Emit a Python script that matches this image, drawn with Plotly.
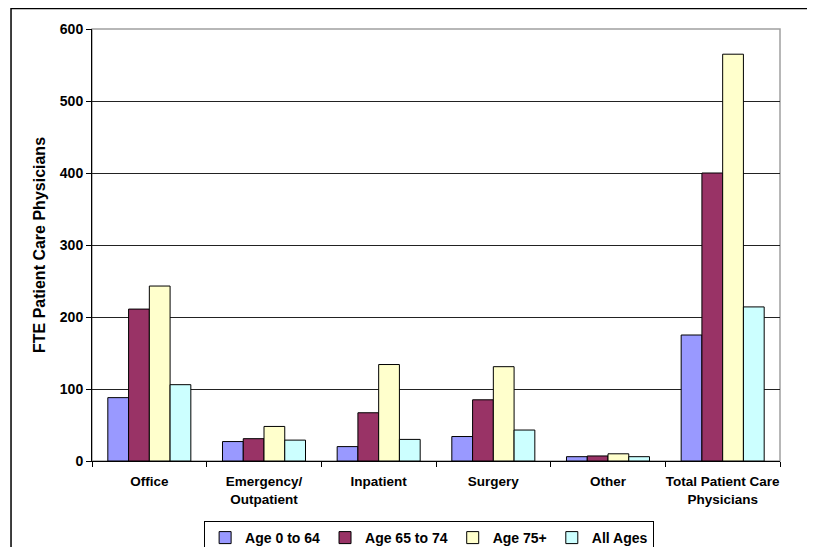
import plotly.graph_objects as go

categories = ["Office", "Emergency/<br>Outpatient", "Inpatient", "Surgery", "Other",
              "Total Patient Care<br>Physicians"]
age_0_64 = [88, 27, 20, 34, 6, 175]
age_65_74 = [211, 31, 67, 85, 7, 400]
age_75_plus = [243, 48, 134, 131, 10, 565]
all_ages = [106, 29, 30, 43, 6, 214]

series = [
    ("Age 0 to 64", age_0_64, "#9999FF"),
    ("Age 65 to 74", age_65_74, "#993366"),
    ("Age 75+", age_75_plus, "#FFFFCC"),
    ("All Ages", all_ages, "#CCFFFF"),
]

fig = go.Figure()
for name, vals, color in series:
    fig.add_trace(go.Bar(
        x=categories, y=vals, name=name,
        marker=dict(color=color, line=dict(color="black", width=1)),
    ))

font = "Liberation Sans, Arial, sans-serif"
# page body has an 8px default margin, so the figure is 8px smaller
W, H = 807, 539
L, T = 84, 21
PW, PH = 688, 432
fig.update_layout(
    width=W, height=H,
    margin=dict(l=L, r=W - L - PW, t=T, b=H - T - PH),
    paper_bgcolor="white", plot_bgcolor="white",
    barmode="group", bargap=0.276, bargroupgap=0,
    font=dict(family=font, size=14, color="black"),
    showlegend=True,
    legend=dict(
        orientation="h", x=0.49, xanchor="center",
        yref="container", y=1 - (513 / H), yanchor="top",
        bordercolor="black", borderwidth=1, bgcolor="white",
        font=dict(family=font, size=14, color="black", weight="bold"),
        itemwidth=30, tracegroupgap=0,
    ),
    xaxis=dict(
        showline=True, linecolor="black", linewidth=1,
        ticks="outside", ticklen=5, tickcolor="black", tickson="boundaries",
        tickfont=dict(family=font, size=13.5, weight="bold"),
        tickangle=0, automargin=False, ticklabelstandoff=8,
        showgrid=False,
    ),
    yaxis=dict(
        range=[0, 600], dtick=100,
        showline=True, linecolor="black", linewidth=1,
        ticks="outside", ticklen=5, tickcolor="black",
        tickfont=dict(family=font, size=14, weight="bold"),
        showgrid=True, gridcolor="#222222", gridwidth=1,
        zeroline=False, automargin=False,
        title=dict(text="FTE Patient Care Physicians",
                   font=dict(family=font, size=16, weight="bold"), standoff=10),
    ),
    shapes=[
        dict(type="rect", xref="paper", yref="paper", x0=0, x1=1, y0=0, y1=1,
             line=dict(color="#A0A0A0", width=1.5), layer="below"),
        dict(type="rect", xref="paper", yref="paper", x0=-0.1177, x1=1.2,
             y0=-0.5, y1=1 + 20.5 / PH, line=dict(color="black", width=1.5),
             layer="below"),
    ],
)

fig.write_html("out.html")
